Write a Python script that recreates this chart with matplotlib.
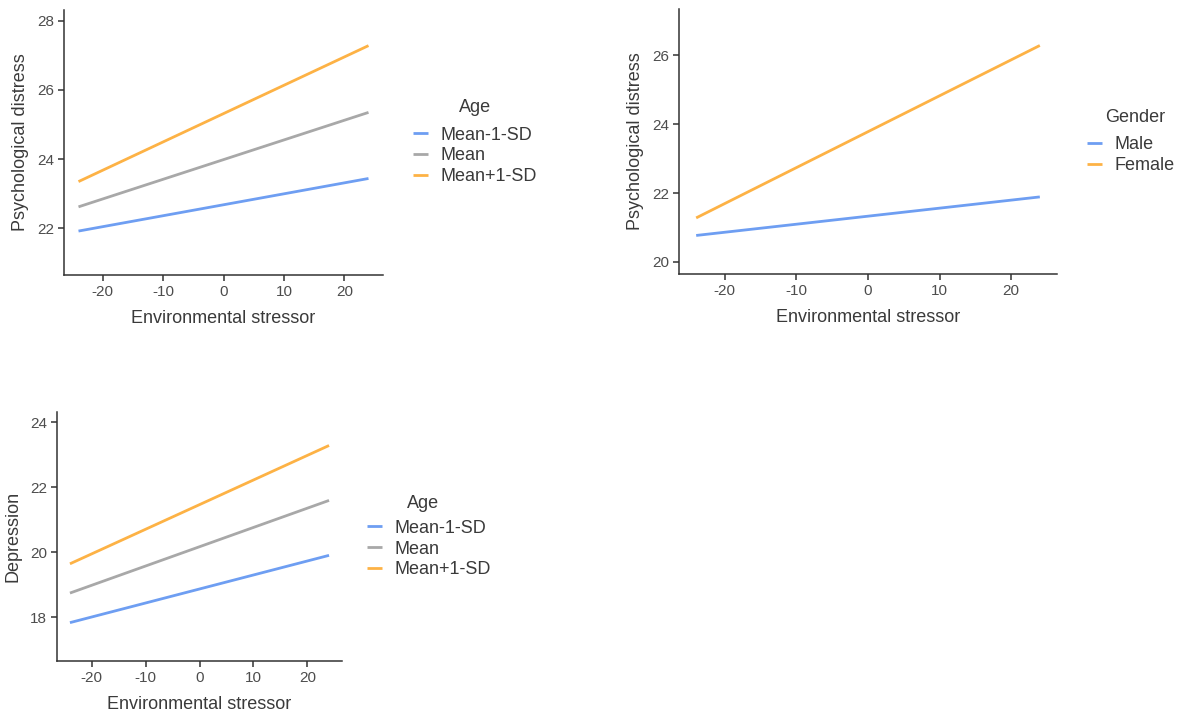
import numpy as np
import matplotlib
matplotlib.use("Agg")
import matplotlib.pyplot as plt

plt.rcParams["font.family"] = ["Liberation Sans", "DejaVu Sans"]
plt.rcParams["axes.unicode_minus"] = False

# data (predicted values at the ends of the stressor range)
stressor = [-24, 24]

age_levels = ["Mean-1-SD", "Mean", "Mean+1-SD"]
psy_age_low = [21.92, 23.44]
psy_age_mean = [22.62, 25.35]
psy_age_high = [23.35, 27.28]

gender_levels = ["Male", "Female"]
psy_male = [20.77, 21.89]
psy_female = [21.28, 26.29]

dep_age_low = [17.83, 19.90]
dep_age_mean = [18.74, 21.59]
dep_age_high = [19.64, 23.28]

x_ticks = [-20, -10, 0, 10, 20]

BLUE = "#6E9EF2"
GRAY = "#A8A8A8"
ORANGE = "#FDB245"
SPINE = "#333333"
TICKTXT = "#4D4D4D"
TXT = "#3a3a3a"

W, H = 1187, 714
fig = plt.figure(figsize=(W / 100, H / 100), dpi=100)


def px_axes(left, top, right, bottom):
    return fig.add_axes([left / W, 1 - bottom / H, (right - left) / W, (bottom - top) / H])


def style(ax, ylabel, ylim, yticks):
    for s in ["top", "right"]:
        ax.spines[s].set_visible(False)
    for s in ["left", "bottom"]:
        ax.spines[s].set_color(SPINE)
        ax.spines[s].set_linewidth(1.1)
    ax.set_xlim(-26.4, 26.4)
    ax.set_ylim(*ylim)
    ax.set_xticks(x_ticks)
    ax.set_yticks(yticks)
    ax.tick_params(direction="out", length=4, width=1.1, color=SPINE,
                   labelsize=11, labelcolor=TICKTXT, pad=3)
    ax.set_xlabel("Environmental stressor", fontsize=13, color=TXT, labelpad=8)
    ax.set_ylabel(ylabel, fontsize=13, color=TXT, labelpad=6)


def add_legend(ax, title, x_px, mid_px, title_cx, title_cy):
    leg = ax.legend(loc="center left",
                    bbox_to_anchor=(x_px / W, 1 - mid_px / H),
                    bbox_transform=fig.transFigure, frameon=False,
                    fontsize=13, handlelength=0.85,
                    handletextpad=0.65, labelspacing=0.22, borderpad=0,
                    borderaxespad=0)
    for t in leg.get_texts():
        t.set_color(TXT)
    for h in leg.legend_handles:
        h.set_linewidth(2)
    fig.text(title_cx / W, 1 - title_cy / H, title, fontsize=13, color=TXT,
             ha="center", va="center")
    return leg


# panel 1: psychological distress by age
ax1 = px_axes(64, 10, 383, 275)
ax1.plot(stressor, psy_age_low, color=BLUE, lw=2, label=age_levels[0], solid_capstyle="butt")
ax1.plot(stressor, psy_age_mean, color=GRAY, lw=2, label=age_levels[1], solid_capstyle="butt")
ax1.plot(stressor, psy_age_high, color=ORANGE, lw=2, label=age_levels[2], solid_capstyle="butt")
style(ax1, "Psychological distress", (20.65, 28.31), [22, 24, 26, 28])
add_legend(ax1, "Age", 413, 156, 475, 108)

# panel 2: psychological distress by gender
ax2 = px_axes(679, 9, 1057, 274)
ax2.plot(stressor, psy_male, color=BLUE, lw=2, label=gender_levels[0], solid_capstyle="butt")
ax2.plot(stressor, psy_female, color=ORANGE, lw=2, label=gender_levels[1], solid_capstyle="butt")
style(ax2, "Psychological distress", (19.65, 27.35), [20, 22, 24, 26])
add_legend(ax2, "Gender", 1087, 155, 1135, 118)

# panel 3: depression by age
ax3 = px_axes(57, 412, 342, 661)
ax3.plot(stressor, dep_age_low, color=BLUE, lw=2, label=age_levels[0], solid_capstyle="butt")
ax3.plot(stressor, dep_age_mean, color=GRAY, lw=2, label=age_levels[1], solid_capstyle="butt")
ax3.plot(stressor, dep_age_high, color=ORANGE, lw=2, label=age_levels[2], solid_capstyle="butt")
style(ax3, "Depression", (16.65, 24.31), [18, 20, 22, 24])
add_legend(ax3, "Age", 367, 549, 423.5, 503)

fig.savefig("out.png", dpi=100)
